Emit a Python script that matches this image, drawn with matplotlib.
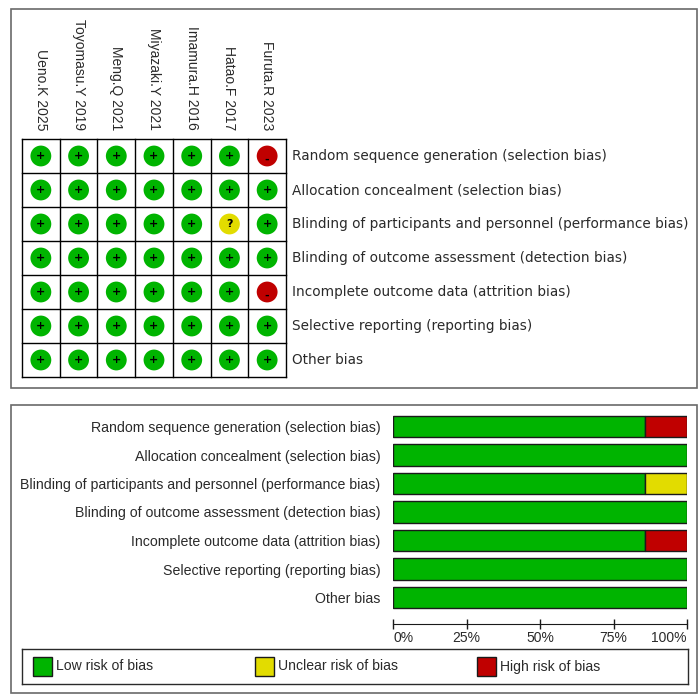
import matplotlib
matplotlib.use("Agg")
import matplotlib.pyplot as plt
from matplotlib.patches import Rectangle
import numpy as np

plt.rcParams['font.family'] = ['Liberation Sans', 'DejaVu Sans']

studies = ["Ueno.K 2025", "Toyomasu.Y 2019", "Meng.Q 2021", "Miyazaki.Y 2021",
           "Imamura.H 2016", "Hatao.F 2017", "Furuta.R 2023"]
domains = ["Random sequence generation (selection bias)",
           "Allocation concealment (selection bias)",
           "Blinding of participants and personnel (performance bias)",
           "Blinding of outcome assessment (detection bias)",
           "Incomplete outcome data (attrition bias)",
           "Selective reporting (reporting bias)",
           "Other bias"]
# judgments: rows = domains, cols = studies
judgments = [
    ["+", "+", "+", "+", "+", "+", "-"],
    ["+", "+", "+", "+", "+", "+", "+"],
    ["+", "+", "+", "+", "+", "?", "+"],
    ["+", "+", "+", "+", "+", "+", "+"],
    ["+", "+", "+", "+", "+", "+", "-"],
    ["+", "+", "+", "+", "+", "+", "+"],
    ["+", "+", "+", "+", "+", "+", "+"],
]
xticks_pct = [0, 25, 50, 75, 100]
xtick_labels = ["0%", "25%", "50%", "75%", "100%"]
legend_labels = ["Low risk of bias", "Unclear risk of bias", "High risk of bias"]

GREEN = "#00B400"
YELLOW = "#E2DC00"
RED = "#C00000"
colors = {"+": GREEN, "?": YELLOW, "-": RED}
TXT = "#2a2a2a"

W, H = 700, 694
fig = plt.figure(figsize=(W / 100, H / 100), dpi=100)
fig.patch.set_facecolor("white")

def box(x0, y0, x1, y1):
    return [x0 / W, 1 - y1 / H, (x1 - x0) / W, (y1 - y0) / H]

# outer frames
for (x0, y0, x1, y1) in [(11, 9, 697, 388), (11, 405, 697, 693)]:
    fig.patches.append(Rectangle((x0 / W, 1 - y1 / H), (x1 - x0) / W, (y1 - y0) / H,
                                 transform=fig.transFigure, fill=False,
                                 edgecolor="#6a6a6a", lw=1.2))

# ---------- Top: summary grid ----------
ns, nd = len(studies), len(domains)
ax = fig.add_axes(box(22, 139, 286, 377))
ax.set_xlim(0, ns)
ax.set_ylim(nd, 0)
ax.axis("off")
for k in range(ns + 1):
    ax.plot([k, k], [0, nd], color="black", lw=1, clip_on=False)
for k in range(nd + 1):
    ax.plot([0, ns], [k, k], color="black", lw=1, clip_on=False)

for i in range(nd):
    for j in range(ns):
        v = judgments[i][j]
        ax.scatter(j + 0.5, i + 0.5, s=225, color=colors[v], edgecolors="none", zorder=3)
        ax.text(j + 0.5, i + 0.5 + (0.1 if v == "-" else 0), v, ha="center", va="center",
                fontsize=8, fontweight="bold", color="black", zorder=4,
                family=["DejaVu Sans"])

for j, s in enumerate(studies):
    ax.text(j + 0.5, -0.26, s, rotation=-90, ha="center", va="bottom",
            fontsize=10, color=TXT)
for i, d in enumerate(domains):
    ax.text(ns + 0.16, i + 0.5, d, ha="left", va="center", fontsize=9.8,
            color=TXT, clip_on=False, family=["DejaVu Sans"])

# ---------- Bottom: summary bars ----------
arr = np.array(judgments)
low = (arr == "+").sum(axis=1) / ns * 100
unc = (arr == "?").sum(axis=1) / ns * 100
high = (arr == "-").sum(axis=1) / ns * 100

bx = fig.add_axes(box(393, 412.25, 687, 611.75))
y = np.arange(nd)
for vals, lefts, c in [(low, np.zeros(nd), GREEN), (unc, low, YELLOW), (high, low + unc, RED)]:
    m = vals > 0
    bx.barh(y[m], vals[m], left=lefts[m], height=0.74, color=c,
            edgecolor="#1a1a1a", lw=1)
bx.set_xlim(0, 100)
bx.set_ylim(nd - 0.5, -0.5)
for sp in ["top", "right", "left"]:
    bx.spines[sp].set_visible(False)
bx.spines["bottom"].set_position(("outward", 8.8))
bx.spines["bottom"].set_color("#1a1a1a")
bx.set_yticks(y)
bx.set_yticklabels(domains, fontsize=10.2, color=TXT)
bx.tick_params(axis="y", length=0, pad=9)
bx.set_xticks(xticks_pct)
bx.set_xticklabels(xtick_labels, fontsize=10, color=TXT)
bx.tick_params(axis="x", direction="inout", length=7.5, width=1, color="#1a1a1a", pad=1)
tl = bx.get_xticklabels()
tl[0].set_ha("left")
tl[-1].set_ha("right")

# ---------- Legend ----------
lx = fig.add_axes(box(22, 649, 688, 684))
lx.set_xlim(0, 3)
lx.set_ylim(0, 1)
lx.set_xticks([])
lx.set_yticks([])
for sp in lx.spines.values():
    sp.set_color("#2a2a2a")
    sp.set_linewidth(1)
lc = [GREEN, YELLOW, RED]
for k, (lab, c) in enumerate(zip(legend_labels, lc)):
    lx.add_patch(Rectangle((k + 0.05, 0.23), 0.0856, 0.54, facecolor=c,
                           edgecolor="#1a1a1a", lw=1))
    lx.text(k + 0.153, 0.5, lab, ha="left", va="center", fontsize=10.1, color=TXT)

fig.savefig("out.png", dpi=100, facecolor="white")
